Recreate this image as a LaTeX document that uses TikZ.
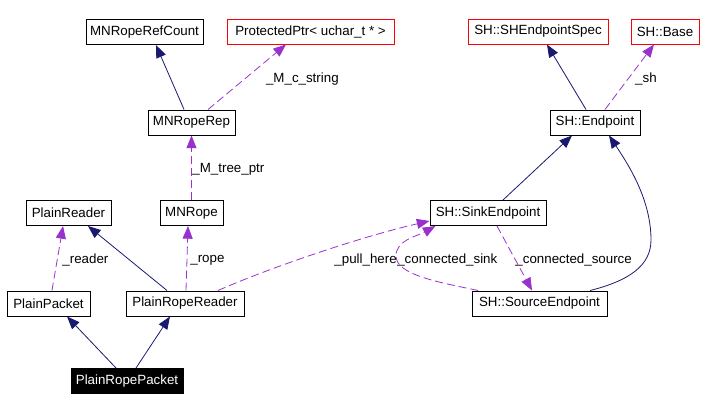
\documentclass[tikz,border=0pt]{standalone}
\usepackage{fontspec}
\setmainfont{Liberation Sans}
\usetikzlibrary{arrows.meta}
\definecolor{DoxNavy}{RGB}{25,25,112}
\definecolor{DoxPurple}{RGB}{153,50,204}
\definecolor{DoxRed}{RGB}{255,0,0}

\begin{document}
\begin{tikzpicture}[
  x=0.75pt,y=-0.75pt,
  box/.style={draw=black,line width=0.75pt,fill=white,inner sep=0pt,minimum height=18.75pt},
  boxw/.style={minimum width=#1*0.75pt},
  extbox/.style={box,draw=DoxRed},
  mainbox/.style={box,fill=black,text=white},
  inherit/.style={draw=DoxNavy,line width=0.6pt,-{Triangle[length=9.5pt,width=7.5pt]}},
  member/.style={draw=DoxPurple,line width=0.6pt,dash pattern=on 6pt off 3pt,-{Triangle[length=9.5pt,width=7.5pt]}},
  lbl/.style={inner sep=0pt,anchor=west,yshift=-1.5pt}
]
\useasboundingbox (0,0) rectangle (718,411);
\node[box,boxw=117] (refcount) at (144.5,32) {MNRopeRefCount};
\node[extbox,boxw=167] (protptr) at (310.5,31.5) {ProtectedPtr< uchar\_t * >};
\node[box,boxw=87] (roperep) at (191.5,122.5) {MNRopeRep};
\node[extbox,boxw=140] (epspec) at (538,31.5) {SH::SHEndpointSpec};
\node[extbox,boxw=68] (shbase) at (665,31.5) {SH::Base};
\node[box,boxw=90] (endpoint) at (595,122.5) {SH::Endpoint};
\node[box,boxw=85] (reader) at (68.5,213) {PlainReader};
\node[box,boxw=63] (rope) at (191.5,213) {MNRope};
\node[box,boxw=116] (sink) at (488,213) {SH::SinkEndpoint};
\node[box,boxw=83] (packet) at (48.5,303.5) {PlainPacket};
\node[box,boxw=118] (ropereader) at (185,303.5) {PlainRopeReader};
\node[box,boxw=135] (source) at (539.5,303.5) {SH::SourceEndpoint};
\node[mainbox,boxw=112] (ropepacket) at (127,381) {PlainRopePacket};
\coordinate (bendr) at (651,240);
\coordinate (bendl) at (396,256);
% inheritance
\draw[inherit] ([xshift=-5.6pt]roperep.north) -- ([xshift=8.6pt]refcount.south);
\draw[inherit] ([xshift=-6.75pt]endpoint.north) -- ([xshift=6.75pt]epspec.south);
\draw[inherit] ([xshift=11.25pt]sink.north) -- ([xshift=-17.25pt]endpoint.south);
\draw[inherit] ([xshift=37.9pt]source.north) .. controls +(40,-10) and +(0,25) .. (bendr)
  .. controls +(0,-40) and +(20,30) .. ([xshift=10.5pt]endpoint.south);
\draw[inherit] ([xshift=-13.5pt]ropereader.north) -- ([xshift=14.6pt]reader.south);
\draw[inherit] ([xshift=-8.25pt]ropepacket.north) -- ([xshift=13.9pt]packet.south);
\draw[inherit] ([xshift=6.75pt]ropepacket.north) -- ([xshift=-11.25pt]ropereader.south);
% members
\draw[member] ([xshift=12.4pt]roperep.north) -- node[lbl,xshift=14pt] (mcstr) {\_M\_c\_string} ([xshift=-18.4pt]protptr.south);
\draw[member] (rope.north) -- node[lbl,xshift=0.4pt] (mtree) {\_M\_tree\_ptr} (roperep.south);
\draw[member] ([xshift=7.5pt]endpoint.north) -- node[lbl,xshift=4pt] (sh) {\_sh} ([xshift=-8.25pt]shbase.south);
\draw[member] ([xshift=2.6pt]packet.north) -- node[lbl,xshift=3.4pt] (rdr) {\_reader} ([xshift=-4.1pt]reader.south);
\draw[member] ([xshift=0.75pt]ropereader.north) -- node[lbl,xshift=2.2pt] (rp) {\_rope} ([xshift=-2.6pt]rope.south);
\draw[member] ([xshift=24.75pt]ropereader.north) .. controls +(50,-22) and +(-70,16) .. ([yshift=-6pt]sink.west);
\draw[member] ([xshift=-46pt]source.north) .. controls +(-38,-8) and +(0,19) .. (bendl)
  .. controls +(0,-16) and +(-18,10) .. ([xshift=4.5pt]sink.south west);
\draw[member] ([xshift=6.75pt]sink.south) -- node[lbl,xshift=0.4pt] (csrc) {\_connected\_source} ([xshift=-5.6pt]source.north);
\node[lbl,anchor=east] (pullhere) at (397,258) {\_pull\_here};
\node[lbl] (csink) at (397,258) {\_connected\_sink};
\end{tikzpicture}
\end{document}
